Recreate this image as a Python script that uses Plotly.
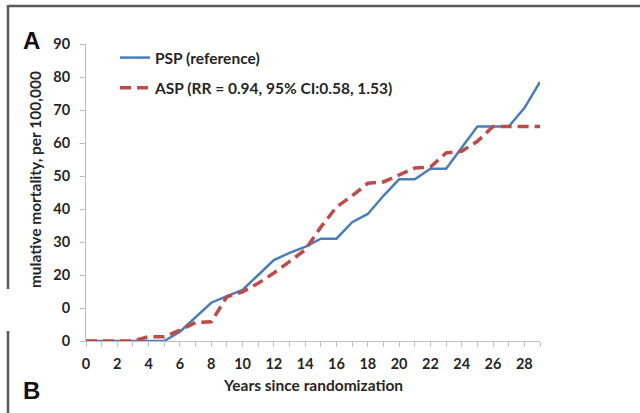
import plotly.graph_objects as go

years = list(range(0, 30))
psp_values = [0, 0, 0, 0, 0, 0, 2.8, 7.2, 11.6, 13.6, 15.5, 20.0, 24.5, 26.7, 28.5, 31.0,
              31.0, 36.0, 38.5, 44.0, 49.0, 49.0, 52.2, 52.2, 58.5, 65.0, 65.0, 65.0, 70.6, 78.5]
asp_values = [0, 0, 0, 0, 1.3, 1.3, 3.3, 5.6, 5.8, 13.4, 14.9, 17.5, 20.6, 24.0, 27.6, 34.5,
              40.6, 44.0, 47.8, 48.2, 50.3, 52.4, 52.7, 57.0, 57.5, 60.5, 65.0, 65.0, 65.0, 65.0]
psp_name = "PSP (reference)"
asp_name = "ASP (RR = 0.94, 95% CI:0.58, 1.53)"
x_title = "Years since randomization"
y_title = "Cumulative mortality, per 100,000"
y_ticks = [0, 10, 20, 30, 40, 50, 60, 70, 80, 90]
x_ticks = list(range(0, 30, 2))

FONT = "Lato"
TXT = "#262626"

# pixel -> paper helpers (plot area 86..540 x, 44..341 y)
L, R, T, B = 86, 540, 44, 341
def fx(px):
    return (px - L) / (R - L)
def fy(py):
    return (B - py) / (B - T)

fig = go.Figure()
fig.add_trace(go.Scatter(x=years, y=psp_values, mode="lines", name=psp_name,
                         legendgroup="a",
                         line=dict(color="#4A7EBB", width=2.5)))
fig.add_trace(go.Scatter(x=years, y=asp_values, mode="lines", name=asp_name,
                         legendgroup="b",
                         line=dict(color="#BE4B48", width=3.5, dash="11px,6px")))

axis_font = dict(family=FONT, size=14.5, color=TXT, weight="bold")
text_font = dict(family=FONT, size=15.5, color=TXT, weight="bold")

fig.update_layout(
    width=640, height=413,
    margin=dict(l=L, r=640 - R, t=T, b=413 - B),
    paper_bgcolor="white", plot_bgcolor="white",
    showlegend=True,
    legend=dict(x=fx(115), y=fy(41), xanchor="left", yanchor="top",
                bgcolor="rgba(0,0,0,0)", borderwidth=0,
                font=text_font, tracegroupgap=7, traceorder="grouped"),
    xaxis=dict(range=[0, 29], tickvals=x_ticks, ticks="outside", ticklen=5,
               tickcolor="#BFBFBF", showline=True, linecolor="#BFBFBF", linewidth=1,
               showgrid=False, zeroline=False, tickfont=axis_font,
               ticklabelstandoff=5,
               minor=dict(dtick=1, ticks="outside", ticklen=5, tickcolor="#BFBFBF")),
    yaxis=dict(range=[0, 90], tickvals=y_ticks, ticks="outside", ticklen=5,
               tickcolor="#BFBFBF", showline=True, linecolor="#BFBFBF", linewidth=1,
               showgrid=False, zeroline=False, tickfont=axis_font,
               ticklabelstandoff=7),
)

# outer frame lines
fig.add_shape(type="line", xref="paper", yref="paper", x0=fx(8), y0=fy(6), x1=fx(645), y1=fy(6),
              line=dict(color="#5A5A5A", width=2.5), layer="above")
fig.add_shape(type="line", xref="paper", yref="paper", x0=fx(8), y0=fy(5), x1=fx(8), y1=fy(420),
              line=dict(color="#5A5A5A", width=2.5), layer="above")

mid = dict(xref="paper", yref="paper", xanchor="center", yanchor="middle", showarrow=False)
annos = [
    dict(text=x_title, x=fx(313), y=fy(385), font=text_font, **mid),
    dict(text=y_title, x=fx(35), y=fy(189), textangle=-90, font=text_font, **mid),
    dict(text="A", x=fx(31), y=fy(40),
         font=dict(family="Liberation Sans", size=24, color="#111111", weight="bold"), **mid),
    dict(text="B", x=fx(31), y=fy(390),
         font=dict(family="Liberation Sans", size=24, color="#111111", weight="bold"), **mid),
    # white patch that hides part of the panel (as in the reference)
    dict(text=" ", x=fx(0), y=fy(289), xref="paper", yref="paper", xanchor="left",
         yanchor="top", width=62, height=42, bgcolor="white", borderpad=0, borderwidth=0,
         showarrow=False),
]
fig.update_layout(annotations=annos)

fig.write_html("out.html")
